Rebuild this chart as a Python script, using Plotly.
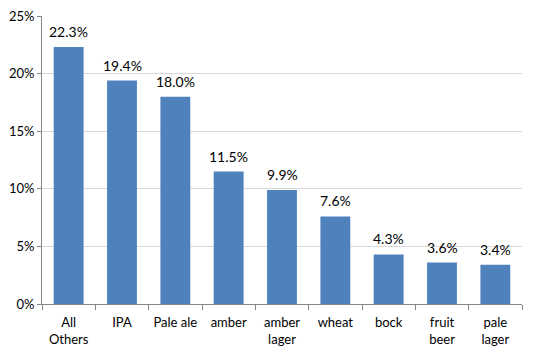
import plotly.graph_objects as go

categories = ["All<br>Others", "IPA", "Pale ale", "amber", "amber<br>lager", "wheat", "bock", "fruit<br>beer", "pale<br>lager"]
values = [22.3, 19.4, 18.0, 11.5, 9.9, 7.6, 4.3, 3.6, 3.4]
y_ticks = [0, 5, 10, 15, 20, 25]
y_tick_labels = ["0%", "5%", "10%", "15%", "20%", "25%"]

font_family = "Lato, Open Sans, sans-serif"

fig = go.Figure(go.Bar(
    x=categories,
    y=values,
    marker=dict(color="#4F81BD", line=dict(width=0)),
    cliponaxis=False,
    width=0.56,
))

for c, v in zip(categories, values):
    fig.add_annotation(
        x=c, y=v, text=f"{v:.1f}%", showarrow=False,
        yanchor="bottom", yshift=5,
        font=dict(size=14, color="#000000", family=font_family),
    )

fig.update_layout(
    width=540, height=360,
    margin=dict(l=34, r=26, t=8, b=64),
    plot_bgcolor="white", paper_bgcolor="white",
    font=dict(family=font_family, size=13, color="#000000"),
    showlegend=False,
    bargap=0.44,
)
fig.update_xaxes(
    automargin=False,
    showline=True, linecolor="#868686", linewidth=1,
    ticks="outside", ticklen=5, tickcolor="#868686",
    tickson="boundaries",
    tickangle=0,
    ticklabelstandoff=6,
    showgrid=False,
    tickfont=dict(size=13),
)
fig.update_yaxes(
    automargin=False,
    range=[0, 25],
    tickvals=y_ticks, ticktext=y_tick_labels,
    ticklabeloverflow="allow",
    showline=True, linecolor="#868686", linewidth=1,
    ticks="outside", ticklen=4, tickcolor="#868686",
    showgrid=True, gridcolor="#D9D9D9", gridwidth=1,
    zeroline=False,
    tickfont=dict(size=13),
)

fig.write_html("out.html")
